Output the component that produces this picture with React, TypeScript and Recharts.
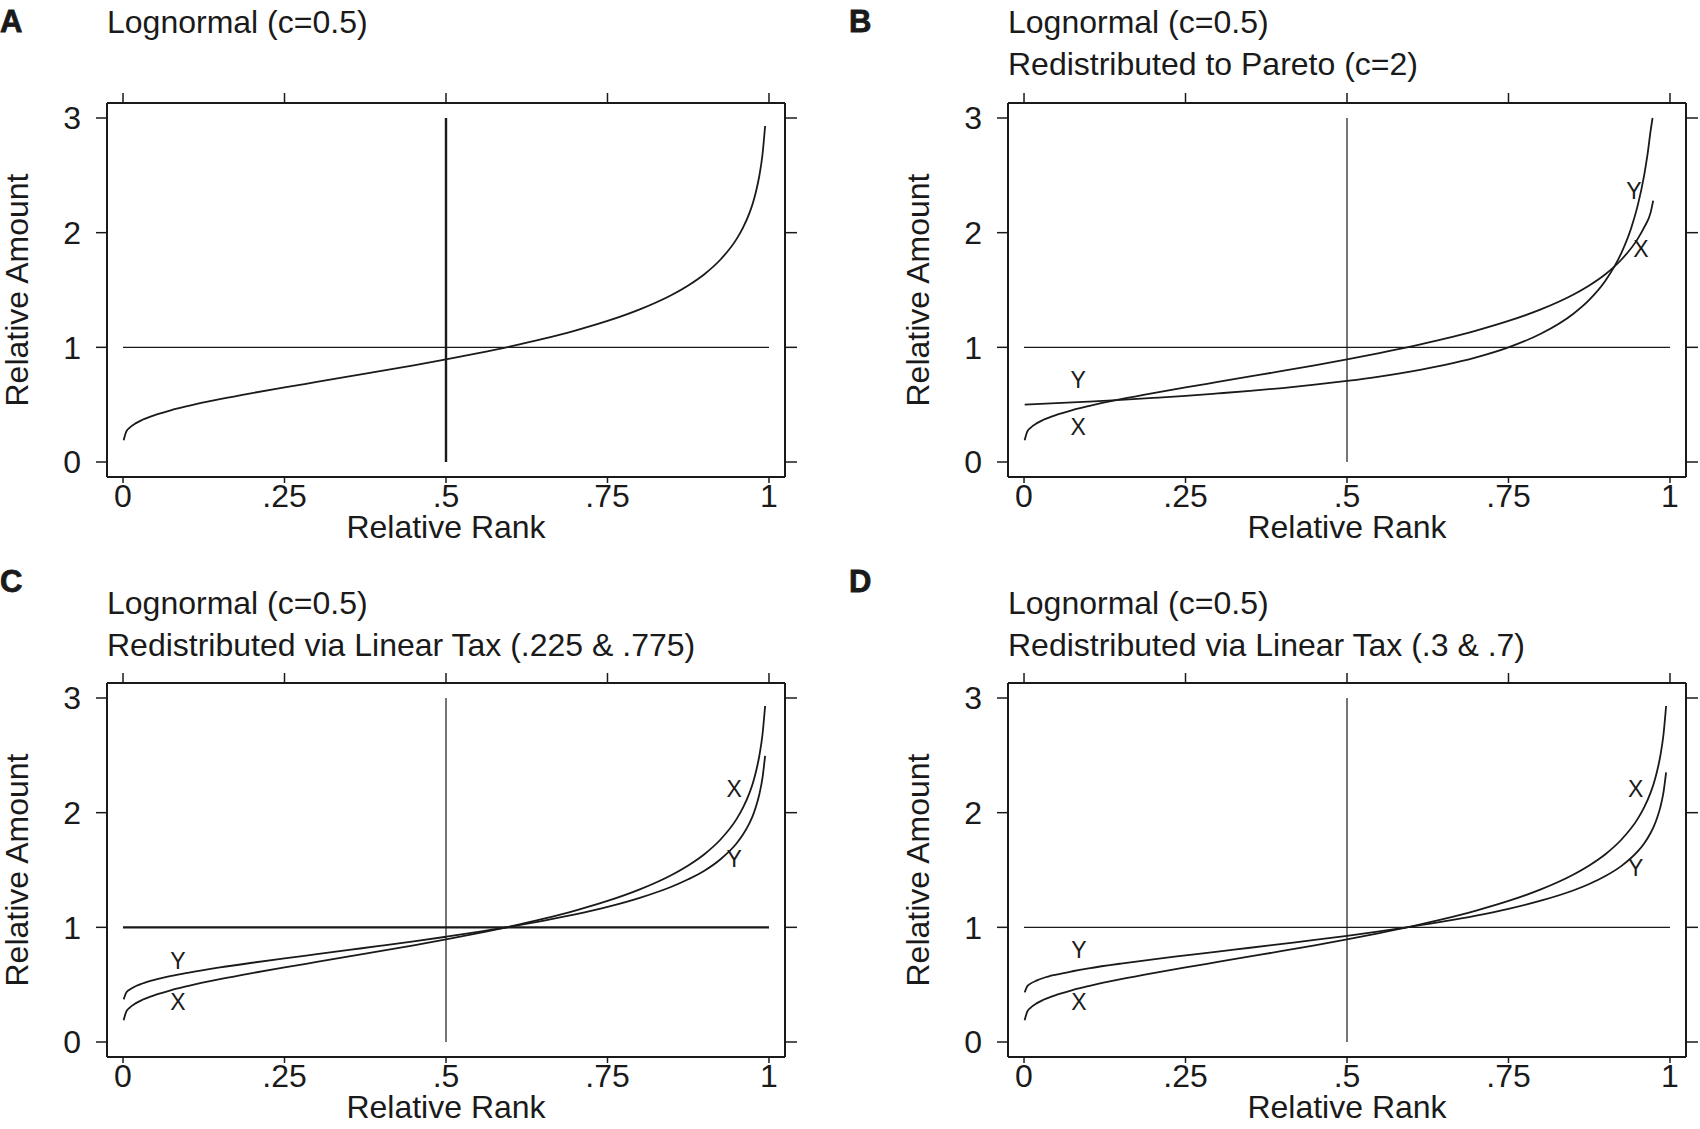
import { ComposedChart, Line, XAxis, YAxis, ReferenceLine, Scatter } from "recharts";

// relative rank grid used by the lognormal curves (A, C, D)
const rank = [
  0.001, 0.005, 0.01, 0.02, 0.03, 0.05, 0.075, 0.1, 0.15, 0.2, 0.25, 0.3, 0.35, 0.4, 0.45,
  0.5, 0.55, 0.6, 0.65, 0.7, 0.75, 0.8, 0.85, 0.875, 0.9, 0.925, 0.95, 0.96, 0.97, 0.975,
  0.98, 0.985, 0.99, 0.994,
];
// X: lognormal (c=0.5)
const lognormX = [
  0.19, 0.265, 0.298, 0.339, 0.368, 0.411, 0.453, 0.488, 0.548, 0.601, 0.65, 0.698, 0.746,
  0.794, 0.843, 0.894, 0.949, 1.008, 1.073, 1.146, 1.23, 1.331, 1.459, 1.54, 1.638, 1.766,
  1.946, 2.046, 2.175, 2.257, 2.361, 2.494, 2.684, 2.93,
];
// Y after linear tax .225 & .775
const taxY225 = [
  0.372, 0.43, 0.456, 0.488, 0.51, 0.544, 0.576, 0.603, 0.65, 0.691, 0.729, 0.766, 0.803,
  0.84, 0.878, 0.918, 0.96, 1.006, 1.057, 1.113, 1.178, 1.257, 1.356, 1.419, 1.494, 1.594,
  1.733, 1.811, 1.911, 1.974, 2.055, 2.158, 2.305, 2.496,
];
// Y after linear tax .3 & .7
const taxY30 = [
  0.433, 0.486, 0.509, 0.537, 0.558, 0.588, 0.617, 0.642, 0.684, 0.721, 0.755, 0.789, 0.822,
  0.856, 0.89, 0.926, 0.964, 1.006, 1.051, 1.102, 1.161, 1.232, 1.321, 1.378, 1.447, 1.536,
  1.662, 1.732, 1.823, 1.88, 1.953, 2.046, 2.179, 2.351,
];

// panel B is cut where the Pareto curve reaches 3
const rankB = [
  0.001, 0.005, 0.01, 0.02, 0.03, 0.05, 0.075, 0.1, 0.15, 0.2, 0.25, 0.3, 0.35, 0.4, 0.45,
  0.5, 0.55, 0.6, 0.65, 0.7, 0.75, 0.8, 0.85, 0.875, 0.9, 0.925, 0.95, 0.96, 0.97, 0.974,
];
const lognormXB = [
  0.19, 0.265, 0.298, 0.339, 0.368, 0.411, 0.453, 0.488, 0.548, 0.601, 0.65, 0.698, 0.746,
  0.794, 0.843, 0.894, 0.949, 1.008, 1.073, 1.146, 1.23, 1.331, 1.459, 1.54, 1.638, 1.766,
  1.946, 2.046, 2.175, 2.28,
];
const rankPareto = [
  0.001, 0.05, 0.1, 0.15, 0.2, 0.25, 0.3, 0.35, 0.4, 0.45, 0.5, 0.55, 0.6, 0.65, 0.7, 0.75,
  0.8, 0.85, 0.875, 0.9, 0.925, 0.94, 0.95, 0.96, 0.965, 0.97, 0.973,
];
const paretoY = [
  0.5, 0.513, 0.527, 0.542, 0.559, 0.577, 0.598, 0.62, 0.645, 0.674, 0.707, 0.745, 0.791,
  0.845, 0.913, 1.0, 1.118, 1.291, 1.414, 1.581, 1.826, 2.041, 2.236, 2.5, 2.673, 2.887, 3.0,
];

const xTicks = [0, 0.25, 0.5, 0.75, 1];
const xTickLabels = ["0", ".25", ".5", ".75", "1"];
const yTicks = [0, 1, 2, 3];

const labelsB = [
  { p: 0.084, v: 0.715, t: "Y" },
  { p: 0.084, v: 0.305, t: "X" },
  { p: 0.944, v: 2.36, t: "Y" },
  { p: 0.955, v: 1.86, t: "X" },
];
const labelsC = [
  { p: 0.085, v: 0.706, t: "Y" },
  { p: 0.085, v: 0.35, t: "X" },
  { p: 0.946, v: 2.21, t: "X" },
  { p: 0.946, v: 1.6, t: "Y" },
];
const labelsD = [
  { p: 0.085, v: 0.8, t: "Y" },
  { p: 0.085, v: 0.35, t: "X" },
  { p: 0.947, v: 2.21, t: "X" },
  { p: 0.947, v: 1.52, t: "Y" },
];

const INK = "#1a1a1a";
const FONT = "'Liberation Sans', Arial, Helvetica, sans-serif";

const pts = (ps: number[], vs: number[]) => ps.map((p, i) => ({ p, v: vs[i] }));
const blank = () => "";

interface PanelProps {
  left: number;
  top: number;
  curves: { p: number; v: number }[][];
  labels?: { p: number; v: number; t: string }[];
  hWidth: number;
  vWidth: number;
}

function Panel({ left, top, curves, labels = [], hWidth, vWidth }: PanelProps) {
  const tickFont = { fontSize: 32, fill: INK, fontFamily: FONT };
  const line = { stroke: INK, strokeWidth: 2 };
  const tline = { stroke: INK, strokeWidth: 1.5 };
  return (
    <div style={{ position: "absolute", left, top }}>
      <ComposedChart width={799} height={560} margin={{ top: 93, right: 0, bottom: 43, left: 57 }}>
        <XAxis
          dataKey="p"
          type="number"
          domain={[-0.0248, 1.0248]}
          ticks={xTicks}
          tickFormatter={(v: number) => xTickLabels[xTicks.indexOf(v)]}
          allowDataOverflow
          height={40}
          tickSize={6}
          tickMargin={1}
          tick={tickFont}
          axisLine={line}
          tickLine={tline}
        />
        <XAxis
          xAxisId="top"
          orientation="top"
          dataKey="p"
          type="number"
          domain={[-0.0248, 1.0248]}
          ticks={xTicks}
          tickFormatter={blank}
          allowDataOverflow
          height={10}
          tickSize={10}
          axisLine={line}
          tickLine={tline}
        />
        <YAxis
          type="number"
          domain={[-0.1308, 3.1308]}
          ticks={yTicks}
          allowDataOverflow
          width={50}
          tickSize={11}
          tickMargin={15}
          tick={tickFont}
          axisLine={line}
          tickLine={tline}
        />
        <YAxis
          yAxisId="right"
          orientation="right"
          type="number"
          domain={[-0.1308, 3.1308]}
          ticks={yTicks}
          tickFormatter={blank}
          allowDataOverflow
          width={14}
          tickSize={12}
          axisLine={line}
          tickLine={tline}
        />
        <ReferenceLine
          segment={[{ x: 0, y: 1 }, { x: 1, y: 1 }]}
          stroke={INK}
          strokeWidth={hWidth}
        />
        <ReferenceLine
          segment={[{ x: 0.5, y: 0 }, { x: 0.5, y: 3 }]}
          stroke={INK}
          strokeWidth={vWidth}
        />
        {curves.map((c, i) => (
          <Line
            key={i}
            data={c}
            dataKey="v"
            type="monotone"
            stroke={INK}
            strokeWidth={1.8}
            dot={false}
            isAnimationActive={false}
          />
        ))}
        {labels.length > 0 && (
          <Scatter
            data={labels}
            dataKey="v"
            isAnimationActive={false}
            shape={(props: any) => (
              <text
                x={props.cx}
                y={props.cy}
                textAnchor="middle"
                dominantBaseline="central"
                fontSize={23}
                fill={INK}
                fontFamily={FONT}
              >
                {props.payload.t}
              </text>
            )}
          />
        )}
      </ComposedChart>
    </div>
  );
}

const panelText = [
  { dx: 0, dy: 0, letter: "A", letterY: 32, titles: ["Lognormal (c=0.5)"], titleY: 33 },
  { dx: 901, dy: 0, letter: "B", letterY: 32, titles: ["Lognormal (c=0.5)", "Redistributed to Pareto (c=2)"], titleY: 33 },
  { dx: 0, dy: 580, letter: "C", letterY: 12, titles: ["Lognormal (c=0.5)", "Redistributed via Linear Tax (.225 & .775)"], titleY: 34 },
  { dx: 901, dy: 580, letter: "D", letterY: 12, titles: ["Lognormal (c=0.5)", "Redistributed via Linear Tax (.3 & .7)"], titleY: 34 },
];

export default function App() {
  return (
    <div
      style={{
        position: "absolute",
        left: 0,
        top: 0,
        width: 1700,
        height: 1129,
        background: "#fff",
        overflow: "hidden",
      }}
    >
      <Panel left={0} top={0} curves={[pts(rank, lognormX)]} hWidth={1.2} vWidth={2.4} />
      <Panel
        left={901}
        top={0}
        curves={[pts(rankB, lognormXB), pts(rankPareto, paretoY)]}
        labels={labelsB}
        hWidth={1.2}
        vWidth={1.2}
      />
      <Panel
        left={0}
        top={580}
        curves={[pts(rank, lognormX), pts(rank, taxY225)]}
        labels={labelsC}
        hWidth={2.4}
        vWidth={1.2}
      />
      <Panel
        left={901}
        top={580}
        curves={[pts(rank, lognormX), pts(rank, taxY30)]}
        labels={labelsD}
        hWidth={1.2}
        vWidth={1.2}
      />
      <svg
        width={1700}
        height={1129}
        style={{ position: "absolute", left: 0, top: 0, pointerEvents: "none" }}
        fontFamily={FONT}
        fill={INK}
      >
        {panelText.map((t) => (
          <g key={t.letter} transform={`translate(${t.dx},${t.dy})`}>
            <text
              x={t.dx === 0 ? 0 : -52}
              y={t.letterY}
              fontSize={31}
              fontWeight="bold"
              stroke={INK}
              strokeWidth={0.8}
            >
              {t.letter}
            </text>
            {t.titles.map((s, i) => (
              <text key={i} x={107} y={t.titleY + i * 42} fontSize={32}>
                {s}
              </text>
            ))}
            <text
              transform="translate(28,290) rotate(-90)"
              textAnchor="middle"
              fontSize={32}
            >
              Relative Amount
            </text>
            <text x={446} y={538} textAnchor="middle" fontSize={32}>
              Relative Rank
            </text>
          </g>
        ))}
      </svg>
    </div>
  );
}
